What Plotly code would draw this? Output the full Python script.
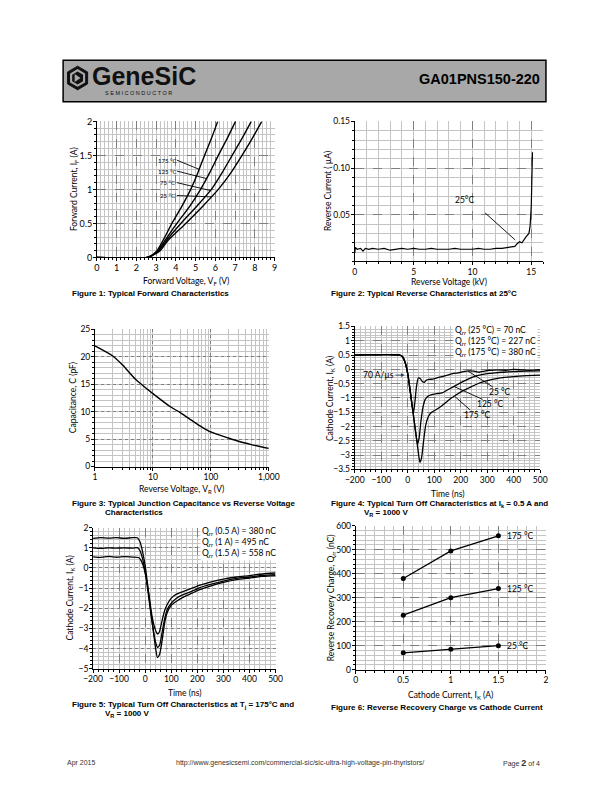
import numpy as np
import plotly.graph_objects as go

W, H = 612, 792
def px(x): return x / W
def py(y): return 1 - y / H

# ---------------- Figure 1: forward characteristics ----------------
fwd_current = [0, 0.005, 0.1, 0.25, 0.5, 0.75, 1.0, 1.25, 1.5, 1.75, 2.0]
fwd_v_175 = [0, 2.6, 3.05, 3.35, 3.8, 4.3, 4.75, 5.12, 5.45, 5.8, 6.12]
fwd_v_125 = [0, 2.6, 3.1, 3.45, 4.05, 4.7, 5.25, 5.72, 6.15, 6.6, 7.02]
fwd_v_75 = [0, 2.6, 3.15, 3.52, 4.25, 5.05, 5.8, 6.35, 6.85, 7.35, 7.82]
fwd_v_25 = [0, 2.6, 3.2, 3.6, 4.5, 5.35, 6.15, 6.8, 7.35, 7.87, 8.35]
fwd_labels = ["175 °C", "125 °C", "75 °C", "25 °C"]

# ---------------- Figure 2: reverse characteristics ----------------
rev_voltage = [0, 0.05, 0.2, 0.5, 0.7, 0.9, 1.2, 1.5, 2, 2.5, 3, 3.5, 4, 4.5, 5, 5.5, 6,
               6.5, 7, 7.5, 8, 8.5, 9, 9.5, 10, 10.5, 11, 11.5, 12, 12.5, 13, 13.3,
               13.6, 13.8, 14.0, 14.2, 14.4, 14.6, 14.8, 14.9, 15.0, 15.05, 15.1]
rev_current = [0.009, 0.015, 0.013, 0.014, 0.011, 0.014, 0.013, 0.014, 0.013, 0.014,
               0.012, 0.013, 0.014, 0.013, 0.014, 0.013, 0.013, 0.014, 0.013, 0.013,
               0.013, 0.014, 0.013, 0.013, 0.013, 0.014, 0.013, 0.013, 0.014, 0.014,
               0.015, 0.016, 0.016, 0.019, 0.021, 0.020, 0.024, 0.027, 0.030, 0.038,
               0.06, 0.09, 0.117]

# ---------------- Figure 3: capacitance ----------------
cap_voltage = [1, 2, 3, 5, 7, 10, 20, 30, 50, 70, 100, 200, 300, 500, 1000]
cap_pf = [22, 20.2, 18.5, 15.9, 14.6, 13.3, 10.9, 9.8, 8.2, 7.2, 6.3, 5.2, 4.6, 4.0, 3.3]
cap_tickvals = [1, 10, 100, 1000]
cap_ticktext = ["1", "10", "100", "1,000"]

# ---------------- Figure 4: turn-off vs temperature ----------------
t4_25 = [-200, -30, -20, -10, 0, 10, 17, 22, 27, 33, 40, 47, 55, 63, 70, 80, 95, 110,
         130, 150, 170, 190, 210, 230, 250, 270, 290, 310, 340, 370, 400, 430, 460, 500]
i4_25 = [0.5, 0.5, 0.45, 0.25, -0.15, -0.8, -1.3, -1.5, -1.15, -0.6, -0.3, -0.32,
         -0.42, -0.45, -0.38, -0.35, -0.34, -0.3, -0.25, -0.2, -0.15, -0.12, -0.08,
         -0.05, -0.06, -0.1, -0.06, -0.03, -0.02, -0.03, 0.0, -0.02, -0.03, -0.01]
t4_125 = [-200, -30, -20, -10, 0, 10, 20, 30, 37, 43, 50, 58, 66, 75, 90, 110, 130, 150,
          170, 190, 210, 230, 250, 270, 300, 330, 360, 400, 450, 500]
i4_125 = [0.5, 0.5, 0.45, 0.25, -0.15, -0.8, -1.5, -2.2, -2.6, -2.4, -1.8, -1.3, -1.05,
          -0.95, -0.88, -0.85, -0.82, -0.72, -0.62, -0.52, -0.42, -0.33, -0.25, -0.2,
          -0.15, -0.12, -0.1, -0.08, -0.06, -0.05]
t4_175 = [-200, -30, -20, -10, 0, 10, 20, 30, 40, 46, 52, 60, 68, 78, 90, 105, 125, 145,
          165, 185, 205, 230, 260, 290, 320, 350, 400, 450, 500]
i4_175 = [0.5, 0.5, 0.45, 0.25, -0.15, -0.8, -1.5, -2.2, -2.9, -3.25, -3.1, -2.5, -1.95,
          -1.65, -1.5, -1.42, -1.3, -1.15, -1.0, -0.88, -0.76, -0.65, -0.52, -0.42,
          -0.35, -0.3, -0.25, -0.22, -0.2]
qrr4_lines = ["Q<sub>rr</sub> (25 °C) = 70 nC", "Q<sub>rr</sub> (125 °C) = 227 nC",
              "Q<sub>rr</sub> (175 °C) = 380 nC"]

# ---------------- Figure 5: turn-off vs current ----------------
t5_05 = [-200, -170, -140, -110, -80, -50, -25, -15, -5, 5, 15, 25, 35, 43, 48, 55, 65,
         75, 85, 100, 120, 150, 180, 210, 250, 300, 350, 400, 450, 500]
i5_05 = [0.55, 0.52, 0.57, 0.53, 0.56, 0.54, 0.52, 0.35, 0.0, -0.6, -1.4, -2.3, -2.9,
         -3.2, -3.28, -3.15, -2.6, -2.1, -1.8, -1.5, -1.3, -1.15, -1.0, -0.85, -0.7,
         -0.55, -0.45, -0.38, -0.3, -0.25]
t5_1 = [-200, -170, -140, -110, -80, -50, -28, -20, -10, 0, 10, 20, 30, 40, 48, 56, 65,
        75, 85, 100, 120, 150, 180, 210, 250, 300, 350, 400, 450, 500]
i5_1 = [1.0, 0.97, 1.0, 0.98, 1.0, 0.98, 1.0, 0.85, 0.45, -0.2, -1.1, -2.1, -3.0, -3.7,
        -3.95, -3.8, -3.2, -2.5, -2.05, -1.75, -1.5, -1.3, -1.15, -0.98, -0.82, -0.65,
        -0.52, -0.45, -0.37, -0.33]
t5_15 = [-200, -170, -140, -110, -80, -50, -30, -20, -10, 0, 10, 20, 30, 40, 47, 55, 65,
         75, 85, 100, 120, 150, 180, 210, 250, 300, 350, 400, 450, 500]
i5_15 = [1.47, 1.5, 1.48, 1.5, 1.47, 1.5, 1.5, 1.3, 0.8, 0.1, -0.9, -2.0, -3.0, -4.0,
         -4.45, -4.3, -3.6, -2.7, -2.2, -1.85, -1.65, -1.42, -1.25, -1.08, -0.9, -0.72,
         -0.58, -0.5, -0.42, -0.38]
qrr5_lines = ["Q<sub>rr</sub> (0.5 A) = 380 nC", "Q<sub>rr</sub> (1 A) = 495 nC",
              "Q<sub>rr</sub> (1.5 A) = 558 nC"]

# ---------------- Figure 6: Qrr vs cathode current ----------------
qrr_current = [0.5, 1.0, 1.5]
qrr_175 = [380, 495, 558]
qrr_125 = [227, 300, 338]
qrr_25 = [70, 85, 100]
qrr_labels = ["175 °C", "125 °C", "25 °C"]

TICKFAM = "Lato, Carlito, sans-serif"
ARIAL = "Liberation Sans, Arial, sans-serif"
MINOR_C = "#c4c4c4"
MAJOR_C = "#7f7f7f"

fig = go.Figure()

def ref(n):
    return ("x", "y") if n == 1 else ("x%d" % n, "y%d" % n)

def add_line(x, y, n, width=1.4, shape="linear", mode="lines", marker=None):
    xa, ya = ref(n)
    fig.add_trace(go.Scatter(x=x, y=y, xaxis=xa, yaxis=ya, mode=mode,
                             line=dict(color="black", width=width, shape=shape,
                                       smoothing=0.6 if shape == "spline" else None),
                             marker=marker, showlegend=False, hoverinfo="skip"))

# empty traces so the overlay grid axes exist
for n in range(7, 13):
    fig.add_trace(go.Scatter(x=[], y=[], xaxis="x%d" % n, yaxis="y%d" % n,
                             showlegend=False, hoverinfo="skip"))

for v in (fwd_v_175, fwd_v_125, fwd_v_75, fwd_v_25):
    add_line(v, fwd_current, 1, shape="spline")
add_line(rev_voltage, rev_current, 2, width=1.2)
add_line(cap_voltage, cap_pf, 3, shape="spline")
add_line(t4_25, i4_25, 4, width=1.3, shape="spline")
add_line(t4_125, i4_125, 4, width=1.3, shape="spline")
add_line(t4_175, i4_175, 4, width=1.3, shape="spline")
add_line(t5_05, i5_05, 5, width=1.3, shape="spline")
add_line(t5_1, i5_1, 5, width=1.3, shape="spline")
add_line(t5_15, i5_15, 5, width=1.3, shape="spline")
for q in (qrr_175, qrr_125, qrr_25):
    add_line(qrr_current, q, 6, width=1.3, mode="lines+markers",
             marker=dict(size=5, color="black"))

def ticks_cfg(rng, dtick, tickvals, ticktext, typ):
    if tickvals is not None:
        return dict(tickmode="array", tickvals=tickvals, ticktext=ticktext)
    return dict(tickmode="linear", tick0=rng[0], dtick=dtick)

def axis(domain, anchor, rng, dtick=None, minor=None, tickvals=None, ticktext=None,
         typ="linear", dash="dash", fs=8.5):
    d = dict(domain=domain, anchor=anchor, range=rng, type=typ, showline=True,
             linecolor="black", linewidth=1, ticks="outside", ticklen=3, tickwidth=1,
             tickcolor="black", showgrid=True, gridcolor=MINOR_C, gridwidth=1,
             zeroline=False, fixedrange=True, ticklabelstandoff=-1,
             tickfont=dict(family=TICKFAM, size=fs, color="black"))
    d.update(ticks_cfg(rng, dtick, tickvals, ticktext, typ))
    m = dict(showgrid=True, gridcolor=MINOR_C, gridwidth=1,
             ticks="outside", ticklen=2, tickcolor="black")
    if isinstance(minor, list):
        m.update(tickmode="array", tickvals=minor)
    elif minor is not None:
        m.update(tickmode="linear", tick0=rng[0], dtick=minor)
    d["minor"] = m
    return d

def over_axis(base, anchor, rng, dtick=None, tickvals=None, ticktext=None, typ="linear",
              dash="dash", **_):
    d = dict(overlaying=base, anchor=anchor, range=rng, type=typ, showline=False,
             showticklabels=False, ticks="", showgrid=True, gridcolor=MAJOR_C,
             gridwidth=0.9, griddash=dash, zeroline=False, fixedrange=True)
    d.update(ticks_cfg(rng, dtick, tickvals, ticktext, typ))
    return d

def dom(x0, x1, y0, y1):
    return [px(x0), px(x1)], [py(y1), py(y0)]

boxes = {
    1: (90, 274, 117, 255),
    2: (357, 552, 117, 259),
    3: (88, 268, 328, 467),
    4: (357, 549, 325, 470),
    5: (86, 275, 529, 672),
    6: (358, 555, 527, 673),
}
lay = {}
def set_axes(n, xcfg, ycfg):
    xd, yd = dom(*boxes[n])
    xa, ya = ref(n)
    xname = "xaxis" if n == 1 else "xaxis%d" % n
    yname = "yaxis" if n == 1 else "yaxis%d" % n
    lay[xname] = axis(xd, ya, **xcfg)
    lay[yname] = axis(yd, xa, **ycfg)
    m = n + 6
    lay["xaxis%d" % m] = over_axis(xa, "y%d" % m, **xcfg)
    lay["yaxis%d" % m] = over_axis(ya, "x%d" % m, **ycfg)

set_axes(1, dict(rng=[0, 9], dtick=1, minor=0.2, fs=9), dict(rng=[0, 2], dtick=0.5, minor=0.1, fs=9))
set_axes(2, dict(rng=[0, 16], tickvals=[0, 5, 10, 15], ticktext=["0", "5", "10", "15"], minor=1),
         dict(rng=[0, 0.15], tickvals=[0.05, 0.10, 0.15], ticktext=["0.05", "0.10", "0.15"], minor=0.01))
log_minor = [m * 10 ** e for e in range(3) for m in range(2, 10)]
set_axes(3, dict(rng=[0, 3], typ="log", tickvals=cap_tickvals, ticktext=cap_ticktext,
                 minor=log_minor, dash="dot"),
         dict(rng=[0, 25], dtick=5, minor=1, dash="dot"))
set_axes(4, dict(rng=[-200, 500], dtick=100, minor=20), dict(rng=[-3.5, 1.5], dtick=0.5, minor=0.1))
set_axes(5, dict(rng=[-200, 500], dtick=100, minor=20), dict(rng=[-5, 2], dtick=1, minor=0.2, dash="dot"))
set_axes(6, dict(rng=[0, 2], dtick=0.5, minor=0.1), dict(rng=[0, 600], dtick=100, minor=20))

ann = []
shapes = []

def ptext(x, y, text, size=8.5, fam=TICKFAM, xanchor="center", angle=0, color="black"):
    ann.append(dict(x=px(x), y=py(y), xref="paper", yref="paper", text=text, showarrow=False,
                    xanchor=xanchor, yanchor="middle", textangle=angle,
                    font=dict(family=fam, size=size, color=color)))

def dtext(n, x, y, text, size=8.5, xanchor="center", bg=None, align="left"):
    xa, ya = ref(n)
    d = dict(x=x, y=y, xref=xa, yref=ya, text=text, showarrow=False, xanchor=xanchor,
             yanchor="middle", align=align, font=dict(family=TICKFAM, size=size, color="black"))
    if bg:
        d.update(bgcolor=bg, borderpad=1)
    ann.append(d)

def dline(n, x0, y0, x1, y1, w=0.9):
    xa, ya = ref(n)
    shapes.append(dict(type="line", xref=xa, yref=ya, x0=x0, y0=y0, x1=x1, y1=y1,
                       line=dict(color="black", width=w)))

# axis titles
ptext(182, 279, "Forward Voltage, V<sub>F</sub> (V)")
ptext(67, 186, "Forward Current, I<sub>F</sub> (A)", angle=-90)
ptext(455, 280, "Reverse Voltage (kV)")
ptext(330, 188, "Reverse Current ( µA)", angle=-90)
ptext(178, 490, "Reverse Voltage, V<sub>R</sub> (V)")
ptext(66, 397, "Capacitance, C (pF)", angle=-90)
ptext(453, 494.5, "Time (ns)")
ptext(332, 398, "Cathode Current, I<sub>K</sub> (A)", angle=-90)
ptext(181, 697, "Time (ns)")
ptext(63, 600, "Cathode Current, I<sub>K</sub> (A)", angle=-90)
ptext(456, 699, "Cathode Current, I<sub>K</sub> (A)")
ptext(333, 600, "Reverse Recovery Charge, Q<sub>rr</sub> (nC)", angle=-90)

# fig1 labels with leaders
fwd_curves = [fwd_v_175, fwd_v_125, fwd_v_75, fwd_v_25]
lab_y = [1.43, 1.27, 1.1, 0.91]
head_v = [5.18, 5.55, 5.75, 5.8]
for lab, v, ly, hv in zip(fwd_labels, fwd_curves, lab_y, head_v):
    dtext(1, 3.55, ly, lab, size=6, xanchor="center")
    hi = float(np.interp(hv, v, fwd_current))
    dline(1, 4.05, ly, hv, hi)

# fig2 label
dtext(2, 9.35, 0.066, "25°C", size=8.5)
dline(2, 11.07, 0.052, 13.63, 0.023)

# fig4 labels
dtext(4, 172, 0.98, "<br>".join(qrr4_lines), size=8.5, xanchor="left", bg="white")
xa4, ya4 = ref(4)
ann.append(dict(x=-12, y=-0.2, xref=xa4, yref=ya4, ax=-110, ay=-0.2, axref=xa4, ayref=ya4,
                text="70 A/µs", showarrow=True, arrowhead=2, arrowsize=0.8, arrowwidth=0.9,
                font=dict(family=TICKFAM, size=8.5, color="black")))
dtext(4, 348, -0.8, "25 °C")
dline(4, 322, -0.62, 228, -0.06)
dtext(4, 312, -1.22, "125 °C")
dline(4, 283, -1.05, 175, -0.6)
dtext(4, 262, -1.6, "175 °C")
dline(4, 236, -1.42, 178, -0.95)

# fig5 text
dtext(5, 210, 1.25, "<br>".join(qrr5_lines), size=8.5, xanchor="left", bg="white")

# fig6 labels
for lab, q in zip(qrr_labels, (qrr_175, qrr_125, qrr_25)):
    dtext(6, qrr_current[-1] + 0.07, q[-1], lab, size=8.5, xanchor="left")

# captions
def cap(x, y, text):
    ptext(x, y, "<b>" + text + "</b>", size=8, fam=ARIAL, xanchor="left")
cap(62, 292, "Figure 1: Typical Forward Characteristics")
cap(330, 292, "Figure 2: Typical Reverse Characteristics at 25°C")
cap(62, 505, "Figure 3: Typical Junction Capacitance vs Reverse Voltage")
cap(96, 514, "Characteristics")
cap(330, 505, "Figure 4: Typical Turn Off Characteristics at I<sub>k</sub> = 0.5 A and")
cap(364, 514, "V<sub>R</sub> = 1000 V")
cap(62, 709, "Figure 5: Typical Turn Off Characteristics at T<sub>j</sub> = 175°C and")
cap(96, 718, "V<sub>R</sub> = 1000 V")
cap(330, 711, "Figure 6: Reverse Recovery Charge vs Cathode Current")

# header
shapes.append(dict(type="rect", xref="paper", yref="paper", x0=px(55), x1=px(555),
                   y0=py(97), y1=py(55), fillcolor="#a8a8a8", line=dict(color="black", width=1.5),
                   layer="below"))
def hexpath(cx, cy, r):
    pts = []
    for k in range(6):
        a = np.pi / 2 + k * np.pi / 3
        pts.append((px(cx + r * np.cos(a)), py(cy - r * np.sin(a))))
    return "M " + " L ".join("%.5f %.5f" % p for p in pts) + " Z"
shapes.append(dict(type="path", xref="paper", yref="paper", path=hexpath(70, 73, 12),
                   fillcolor="#111111", line=dict(color="#111111", width=1)))
shapes.append(dict(type="path", xref="paper", yref="paper", path=hexpath(70, 73, 9),
                   fillcolor="#a8a8a8", line=dict(color="#a8a8a8", width=0)))
shapes.append(dict(type="path", xref="paper", yref="paper", path=hexpath(70, 73, 6.5),
                   fillcolor="#111111", line=dict(color="#111111", width=0)))
shapes.append(dict(type="path", xref="paper", yref="paper",
                   path="M %.5f %.5f L %.5f %.5f L %.5f %.5f Z" % (px(67), py(69), px(73), py(73), px(67), py(77)),
                   fillcolor="#a8a8a8", line=dict(width=0)))
ptext(83, 71, "<b>GeneSiC</b>", size=25, fam=ARIAL, xanchor="left", color="#111111")
ptext(96, 88, "S E M I C O N D U C T O R", size=5.5, fam=ARIAL, xanchor="left", color="#111111")
ann.append(dict(x=px(551), y=py(74), xref="paper", yref="paper", text="<b>GA01PNS150-220</b>",
                showarrow=False, xanchor="right", yanchor="middle",
                font=dict(family=ARIAL, size=14.5, color="black")))

# footer
ptext(57, 768, "Apr 2015", size=7, fam=ARIAL, xanchor="left", color="#333333")
ptext(300, 768, "http://www.genesicsemi.com/commercial-sic/sic-ultra-high-voltage-pin-thyristors/",
      size=7, fam=ARIAL, color="#333333")
ann.append(dict(x=px(551), y=py(768), xref="paper", yref="paper",
                text="Page <b><span style='font-size:9px'>2</span></b> of 4", showarrow=False,
                xanchor="right", yanchor="middle", font=dict(family=ARIAL, size=7, color="#333333")))

fig.update_layout(width=W, height=H, margin=dict(l=0, r=0, t=0, b=0), autosize=False,
                  paper_bgcolor="white", plot_bgcolor="white", showlegend=False,
                  annotations=ann, shapes=shapes, **lay)
fig.write_html("out.html", config={"displayModeBar": False})
